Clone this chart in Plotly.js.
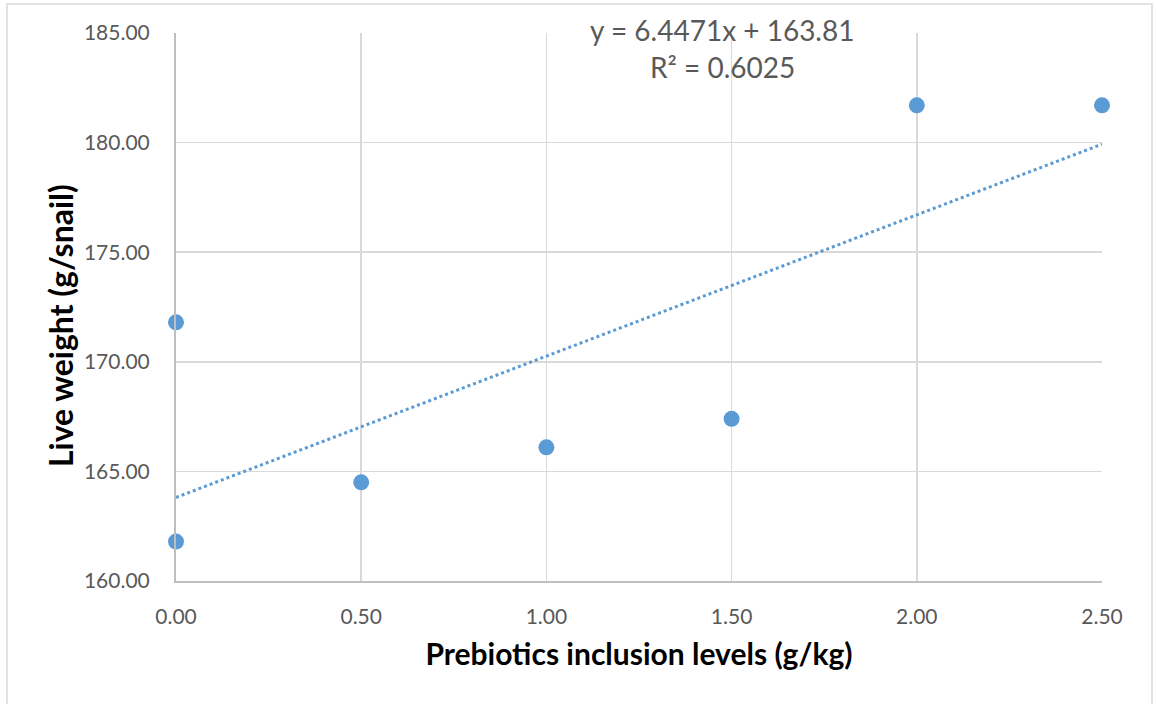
<!DOCTYPE html>
<html>
<head>
<meta charset="utf-8">
<script src="https://cdn.plot.ly/plotly-3.0.1.min.js"></script>
<style>html,body{margin:0;padding:0;background:#fff;}#chart{width:1156px;height:704px;}</style>
</head>
<body>
<div id="chart"></div>
<script>
// Data
const inclusionLevels = [0.0, 0.0, 0.5, 1.0, 1.5, 2.0, 2.5];
const liveWeight = [171.8, 161.8, 164.5, 166.1, 167.4, 181.7, 181.7];
// Trendline coefficients shown on the chart
const slope = 6.4471;
const intercept = 163.81;
const rSquared = 0.6025;
const xTicks = [0, 0.5, 1.0, 1.5, 2.0, 2.5];
const yTicks = [160, 165, 170, 175, 180, 185];
const xTitle = 'Prebiotics inclusion levels (g/kg)';
const yTitle = 'Live weight (g/snail)';

const trendX = [Math.min(...inclusionLevels), Math.max(...inclusionLevels)];
const trendY = trendX.map(x => slope * x + intercept);

const blue = '#5B9BD5';
const grey = '#595959';
const fontFam = 'Lato, "Open Sans", sans-serif';

const traces = [
  {
    x: trendX, y: trendY, mode: 'lines', type: 'scatter',
    line: {color: blue, width: 3, dash: 'dot'},
    hoverinfo: 'skip', showlegend: false
  },
  {
    x: inclusionLevels, y: liveWeight, mode: 'markers', type: 'scatter',
    marker: {color: blue, size: 16},
    cliponaxis: false, showlegend: false
  }
];

const layout = {
  width: 1156, height: 704,
  margin: {l: 176, r: 54, t: 33, b: 123},
  paper_bgcolor: '#fff', plot_bgcolor: '#fff',
  font: {family: fontFam, color: grey, size: 21},
  xaxis: {
    range: [0, 2.5], tickvals: xTicks, tickformat: '.2f',
    showgrid: true, gridcolor: '#d9d9d9', gridwidth: 1.5,
    showline: true, linecolor: '#bfbfbf', linewidth: 2,
    zeroline: false, ticks: '', ticklabelstandoff: 16,
    tickfont: {family: fontFam, size: 21, color: grey},
    title: {text: '<b>' + xTitle + '</b>', standoff: 17,
            font: {family: fontFam, size: 30, color: '#000'}}
  },
  yaxis: {
    range: [160, 185], tickvals: yTicks, tickformat: '.2f',
    showgrid: true, gridcolor: '#d9d9d9', gridwidth: 1.5,
    showline: true, linecolor: '#bfbfbf', linewidth: 2,
    zeroline: false, ticks: '', ticklabelstandoff: 20,
    tickfont: {family: fontFam, size: 21, color: grey}
  },
  annotations: [
    {x: -0.1253, xref: 'paper', y: 0.467, yref: 'paper', xanchor: 'center', yanchor: 'middle',
     textangle: -90, text: '<b>' + yTitle + '</b>', showarrow: false,
     font: {family: fontFam, size: 32, color: '#000'}},
    {x: 0.5897, xref: 'paper', y: 1.005, yref: 'paper', yanchor: 'middle',
     text: 'y = ' + slope + 'x + ' + intercept, showarrow: false,
     font: {family: fontFam, size: 28, color: grey}},
    {x: 0.5897, xref: 'paper', y: 0.938, yref: 'paper', yanchor: 'middle',
     text: 'R² = ' + rSquared, showarrow: false,
     font: {family: fontFam, size: 28, color: grey}}
  ],
  shapes: [
    {type: 'rect', xref: 'paper', yref: 'paper',
     x0: -0.1825, x1: 1.054, y0: -0.4, y1: 1.0529,
     line: {color: '#d9d9d9', width: 1.5}, fillcolor: 'rgba(0,0,0,0)', layer: 'below'}
  ]
};

Plotly.newPlot('chart', traces, layout, {displayModeBar: false, staticPlot: true});
</script>
</body>
</html>
